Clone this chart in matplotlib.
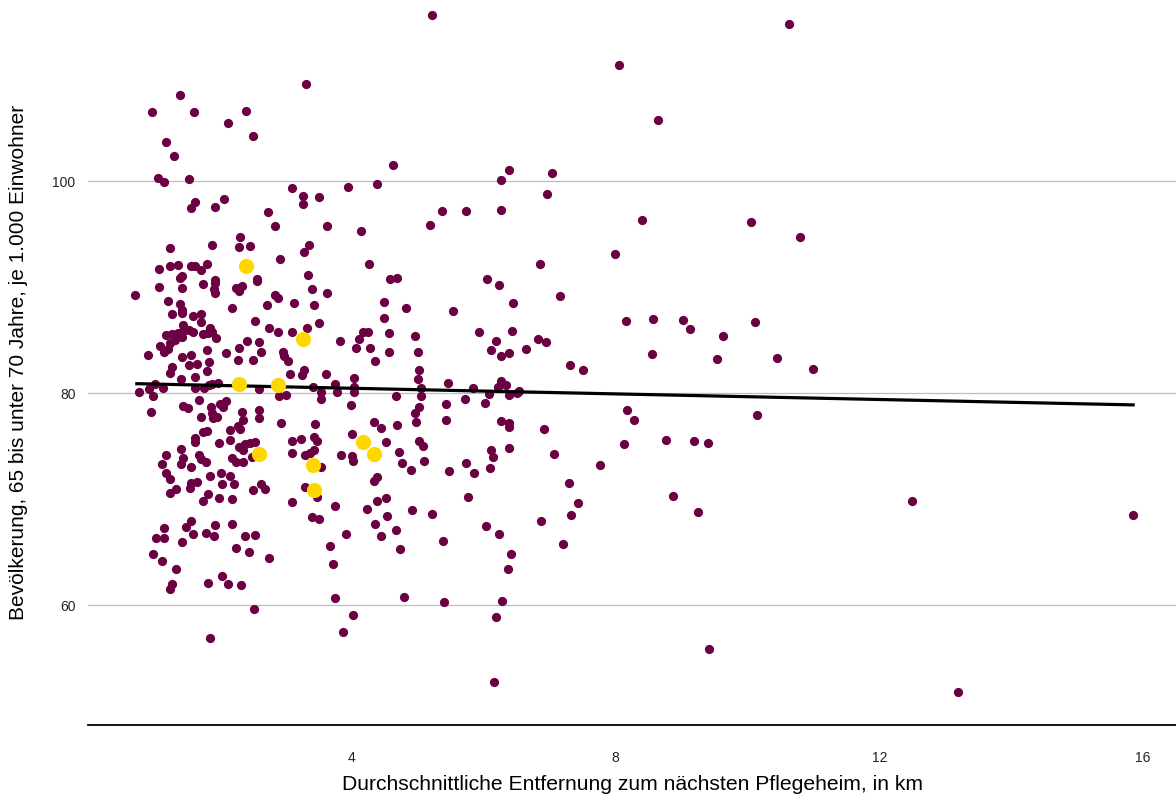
import matplotlib
matplotlib.use("Agg")
from matplotlib import pyplot as plt

plt.rcParams['font.family'] = ['Liberation Sans', 'DejaVu Sans']

# average distance to nearest care home (km) and population 65-70 per 1,000 inhabitants
dist_km = [
    1.39, 0.97, 1.60, 2.39, 2.13, 2.50, 1.18, 1.30, 1.06, 1.15,
    1.53, 3.09, 3.26, 3.26, 3.50, 1.62, 1.56, 1.92, 2.07, 2.73,
    2.83, 2.30, 1.88, 2.29, 2.45, 3.35, 3.27, 1.24, 2.91, 1.07,
    1.24, 1.36, 1.56, 1.62, 1.80, 1.42, 1.39, 3.33, 1.92, 2.57,
    3.30, 5.21,
    4.62, 6.26, 6.38, 3.94, 4.38, 3.62, 4.14, 5.18, 5.37, 5.74,
    6.26, 4.26, 4.58, 4.68, 6.05,
    1.71, 0.72, 1.07, 1.42, 1.74, 1.92, 1.91, 1.92, 2.24, 2.33,
    2.29, 2.57, 2.83, 2.88, 2.71, 3.12, 3.39, 3.42, 1.21, 1.39,
    1.42, 1.42, 1.28, 2.18, 1.59, 1.71, 1.71, 1.44, 2.53, 2.74,
    2.88, 3.10, 3.32, 3.50, 1.85, 1.82, 1.88, 1.74, 1.44, 1.53,
    1.59, 1.18, 1.27, 1.36, 1.42, 1.32, 1.24, 1.09, 1.21, 1.15,
    1.94, 2.29, 2.41, 2.59, 2.63, 2.95, 2.98, 3.03, 1.80, 2.09,
    2.27, 2.50, 0.91, 1.42, 1.56, 1.53, 1.65, 1.83, 1.27, 1.24,
    1.80, 1.62, 1.41, 1.88, 1.97, 3.07, 3.27, 3.24, 1.01, 1.13,
    0.77, 0.92, 0.98, 1.63, 1.76, 1.83, 2.60, 2.89, 3.01, 1.69,
    2.10, 2.00, 2.04, 1.44, 1.51, 1.86, 1.88, 1.95, 1.89, 0.95,
    1.71, 2.33, 2.35, 2.60, 2.60, 2.92, 3.44, 2.15, 2.27, 2.30,
    1.74, 1.80, 1.63, 1.62, 1.41, 1.98, 2.15, 2.29, 2.38, 2.45,
    2.54, 2.35, 3.09, 3.23, 3.42, 3.10, 3.29, 3.36, 3.42, 1.19,
    1.68, 1.71, 1.79, 2.19, 2.24, 2.35, 1.44, 1.41, 1.12, 2.48,
    1.56,
    3.41, 3.53, 3.54, 6.23, 3.62, 4.49, 4.83, 5.53, 6.44, 4.49,
    4.17, 4.24, 4.11, 4.06, 3.82, 4.27, 4.56, 4.56, 4.96, 5.00,
    4.35, 5.93, 6.18, 6.43, 6.11, 6.26, 6.38, 6.64, 5.02, 5.00,
    3.61, 3.74, 4.04, 4.03, 4.03, 5.46, 6.26, 6.34, 6.22, 3.77,
    4.67, 5.05, 5.05, 5.84, 5.71, 6.08, 6.38, 6.50, 6.53, 3.99,
    5.43, 6.02, 5.02, 4.96, 4.97, 5.43, 4.33, 4.44, 4.68, 6.26,
    6.38, 6.38, 3.48, 4.00, 4.52, 5.02, 5.08, 4.71, 3.83, 4.00,
    4.02, 6.11, 6.14, 6.38, 3.54, 4.76, 4.90, 5.09, 5.73, 6.09,
    5.47,
    5.85, 4.39, 4.33, 3.74, 4.38, 4.52, 4.23, 4.53, 4.91, 5.21,
    5.77, 4.35, 4.67, 4.45, 3.91, 5.38, 6.03, 6.23, 3.67, 4.73,
    6.41, 6.37, 3.71, 3.74, 4.79, 5.40, 6.28, 6.18, 4.02, 3.86,
    6.15,
    1.19, 1.25, 1.33, 1.25, 1.56, 1.54, 1.65, 1.85, 2.01, 2.15,
    2.03, 2.21, 1.82, 1.74, 1.98, 2.18, 2.50, 2.62, 2.68, 3.09,
    3.29, 3.47, 3.39, 3.50, 1.16, 1.03, 1.16, 1.56, 1.48, 1.59,
    1.42, 1.92, 1.79, 1.91, 2.19, 2.38, 2.53, 2.24, 2.44, 2.74,
    0.98, 1.12, 1.33, 2.03, 1.27, 1.25, 1.82, 2.12, 2.32, 2.51,
    1.85,
    10.63, 8.05, 8.64, 7.03, 6.96, 8.40, 10.05, 10.80, 7.99, 6.85,
    7.16, 8.16, 8.57, 9.02, 9.13, 10.11, 9.63, 6.82, 6.94, 8.55,
    9.54, 10.45, 7.31, 7.50, 10.99, 8.17, 8.28, 10.14, 6.91, 8.76,
    9.19, 9.40, 8.13, 7.06, 7.76, 7.29, 7.43, 7.32, 6.87, 8.87,
    9.25, 7.20, 9.42, 12.49, 15.85, 13.19,
]
pop_65_70 = [
    108.1, 106.5, 106.5, 106.6, 105.5, 104.3, 103.7, 102.4, 100.3, 99.9,
    100.2, 99.4, 98.6, 97.9, 98.5, 98.0, 97.5, 97.6, 98.3, 97.1,
    95.8, 94.7, 94.0, 93.8, 93.9, 94.0, 93.3, 93.7, 92.7, 91.7,
    92.0, 92.1, 92.0, 92.0, 92.2, 91.1, 90.9, 91.2, 90.7, 90.8,
    109.2, 115.7,
    101.5, 100.1, 101.1, 99.5, 99.7, 95.8, 95.3, 95.9, 97.2, 97.2,
    97.3, 92.2, 90.8, 90.9, 90.8,
    91.6, 89.3, 90.0, 89.9, 90.3, 90.4, 89.8, 89.5, 89.9, 90.1,
    89.6, 90.6, 89.3, 89.0, 88.3, 88.5, 89.8, 88.3, 88.7, 88.4,
    87.9, 87.6, 87.5, 88.0, 87.3, 87.5, 86.7, 86.4, 86.8, 86.2,
    85.8, 85.8, 86.2, 86.6, 86.2, 85.7, 85.8, 85.6, 85.9, 86.0,
    85.8, 85.5, 85.6, 85.7, 85.3, 85.0, 84.7, 84.5, 84.2, 83.9,
    85.2, 84.3, 84.9, 84.8, 83.9, 83.9, 83.5, 83.0, 84.1, 83.8,
    83.1, 83.1, 83.6, 83.4, 83.6, 82.7, 82.8, 82.9, 82.5, 81.9,
    82.1, 81.5, 81.3, 80.9, 81.0, 81.8, 82.2, 81.7, 80.9, 80.5,
    80.1, 80.4, 79.7, 80.5, 80.5, 80.8, 80.4, 79.7, 79.8, 79.4,
    79.3, 79.0, 78.7, 78.8, 78.6, 78.7, 78.1, 77.8, 77.7, 78.2,
    77.8, 78.2, 77.5, 78.4, 77.7, 77.2, 77.1, 76.5, 76.9, 76.6,
    76.3, 76.4, 75.8, 75.4, 74.7, 75.3, 75.6, 74.9, 75.2, 75.3,
    75.4, 74.6, 75.5, 75.7, 75.9, 74.4, 74.2, 74.4, 74.6, 74.2,
    74.2, 73.8, 73.5, 73.9, 73.5, 73.5, 73.9, 73.3, 73.3, 74.0,
    73.0,
    80.6, 80.1, 79.5, 90.2, 89.5, 88.6, 88.0, 87.8, 88.5, 87.1,
    85.8, 85.8, 85.1, 84.3, 84.9, 84.3, 85.7, 83.9, 85.4, 83.9,
    83.0, 85.8, 84.9, 85.9, 84.1, 83.5, 83.8, 84.2, 82.2, 81.3,
    81.8, 80.9, 81.4, 80.6, 80.1, 81.0, 81.2, 80.8, 80.6, 80.1,
    79.7, 80.5, 79.7, 80.5, 79.5, 79.9, 79.8, 80.0, 80.2, 78.9,
    79.0, 79.1, 78.7, 78.1, 77.3, 77.5, 77.3, 76.7, 77.0, 77.4,
    77.2, 76.8, 75.5, 76.2, 75.4, 75.5, 75.0, 74.5, 74.2, 74.1,
    73.6, 74.6, 74.0, 74.8, 73.0, 73.4, 72.8, 73.6, 73.4, 72.9,
    72.7,
    72.5, 72.1, 71.7, 69.4, 69.8, 70.1, 69.1, 68.4, 69.0, 68.6,
    70.2, 67.7, 67.1, 66.5, 66.7, 66.1, 67.5, 66.7, 65.6, 65.3,
    64.8, 63.4, 63.9, 60.7, 60.8, 60.3, 60.4, 58.9, 59.1, 57.5,
    52.8,
    72.5, 71.9, 71.0, 70.6, 71.5, 71.1, 71.6, 72.2, 72.5, 72.2,
    71.4, 71.4, 70.5, 69.8, 70.1, 70.0, 70.9, 71.4, 71.0, 69.7,
    71.2, 70.2, 68.3, 68.1, 67.3, 66.3, 66.3, 67.9, 67.4, 66.7,
    66.0, 67.6, 66.8, 66.5, 67.7, 66.5, 66.6, 65.4, 65.0, 64.5,
    64.8, 64.2, 63.4, 62.8, 62.0, 61.5, 62.1, 62.0, 61.9, 59.6,
    56.9,
    114.8, 111.0, 105.8, 100.8, 98.8, 96.3, 96.2, 94.7, 93.1, 92.2,
    89.2, 86.8, 87.0, 86.9, 86.1, 86.7, 85.4, 85.1, 84.8, 83.7,
    83.2, 83.3, 82.7, 82.2, 82.3, 78.4, 77.5, 77.9, 76.6, 75.6,
    75.5, 75.3, 75.2, 74.3, 73.2, 71.5, 69.6, 68.5, 67.9, 70.3,
    68.8, 65.8, 55.9, 69.8, 68.5, 51.8,
]

# highlighted districts (yellow)
hl_km = [2.39, 3.26, 2.29, 2.88, 2.60, 4.17, 4.33, 3.41, 3.42]
hl_pop = [92.0, 85.1, 80.9, 80.8, 74.3, 75.4, 74.3, 73.2, 70.9]

# linear trend line, read at its two ends
trend_km = [0.74, 15.85]
trend_pop = [80.9, 78.9]

y_ticks = [60, 80, 100]
x_ticks = [4, 8, 12, 16]

fig = plt.figure(figsize=(11.76, 8.01), dpi=100)
ax = fig.add_axes([88 / 1176, 76 / 801, 1088 / 1176, 725 / 801])

ax.scatter(dist_km, pop_65_70, s=44, color="#6b0043", linewidths=0, zorder=3)
ax.plot(trend_km, trend_pop, color="black", linewidth=2.3, zorder=4)
ax.scatter(hl_km, hl_pop, s=120, color="#ffd700", linewidths=0, zorder=5)

ax.set_xlim(0, 16.5)
ax.set_ylim(48.7, 117.1)
ax.set_xticks(x_ticks)
ax.set_yticks(y_ticks)
ax.set_xticklabels([str(t) for t in x_ticks])
ax.set_yticklabels([str(t) for t in y_ticks])
ax.tick_params(axis="both", length=0, labelsize=10, colors="#222222")
ax.tick_params(axis="x", pad=18.5)
ax.tick_params(axis="y", pad=9)
ax.grid(axis="y", color="#bebebe", linewidth=0.9)
ax.set_axisbelow(True)

for side in ["top", "right", "left"]:
    ax.spines[side].set_visible(False)
ax.spines["bottom"].set_color("black")
ax.spines["bottom"].set_linewidth(1.3)

ax.set_xlabel("Durchschnittliche Entfernung zum nächsten Pflegeheim, in km", fontsize=15.2)
ax.set_ylabel("Bevölkerung, 65 bis unter 70 Jahre, je 1.000 Einwohner", fontsize=15)
ax.xaxis.set_label_coords(0.5, -0.069)
ax.yaxis.set_label_coords(-0.055, 0.5)

fig.savefig("out.png", dpi=100, facecolor="white")
